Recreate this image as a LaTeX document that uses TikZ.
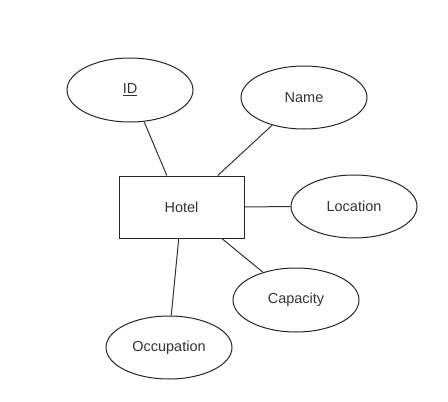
\documentclass[tikz,border=0pt]{standalone}
\usepackage{fontspec}
\setmainfont{Liberation Sans}
\usetikzlibrary{shapes.geometric}
\begin{document}
\begin{tikzpicture}[x=1pt,y=-1pt,
  attr/.style={draw=black!85, line width=1pt, ellipse, minimum width=126pt, minimum height=63pt, inner sep=0pt, text=black!80, font=\fontsize{14.5}{17}\selectfont},
  entity/.style={draw=black!85, line width=1pt, rectangle, minimum width=125pt, minimum height=62pt, inner sep=0pt, text=black!80, font=\fontsize{14.5}{17}\selectfont},
  link/.style={draw=black!80, line width=1pt}]
\useasboundingbox (0,0) rectangle (448,402);
\node[entity] (hotel) at (181.5,207) {Hotel};
\node[attr, minimum height=64pt] (id) at (130,90) {\underline{ID}};
\node[attr] (name) at (304,97.5) {Name};
\node[attr] (loc) at (354,206.5) {Location};
\node[attr, minimum height=64pt] (cap) at (296,300) {Capacity};
\node[attr] (occ) at (169,347.5) {Occupation};
\draw[link] (id.-66) -- (hotel.115);
\draw[link] (name.221) -- (hotel.41);
\draw[link] (hotel.east) -- (loc.west);
\draw[link] (hotel.-38) -- (cap.140);
\draw[link] (hotel.-95) -- (occ.86);
\end{tikzpicture}
\end{document}
